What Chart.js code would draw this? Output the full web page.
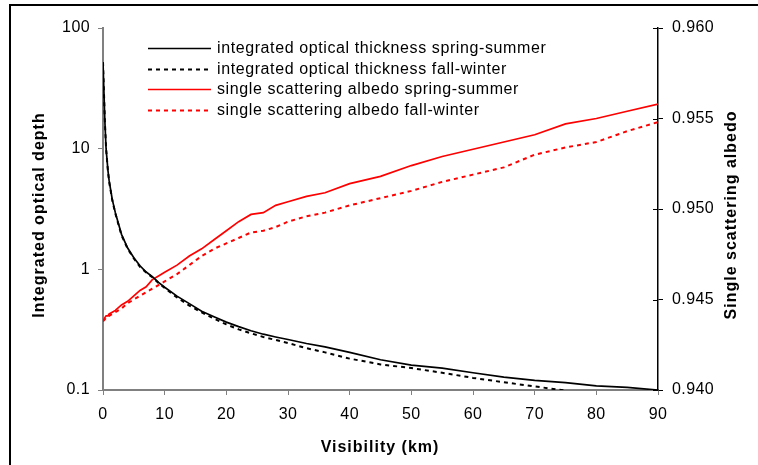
<!DOCTYPE html>
<html><head><meta charset="utf-8">
<script src="https://cdn.jsdelivr.net/npm/chart.js@4/dist/chart.umd.min.js"></script>
<style>html,body{margin:0;padding:0;background:#fff;}#wrap{width:758px;height:465px;}</style>
</head><body><div id="wrap"><canvas id="c" width="758" height="465"></canvas></div>
<script>
const visibility = [0, 0.3, 0.5, 0.8, 1, 1.5, 2, 3, 4, 5, 6, 7, 8, 9, 10, 12, 14, 16, 18, 20, 22, 24, 26, 28, 30, 33, 36, 40, 45, 50, 55, 60, 65, 70, 75, 80, 85, 90];
const odSpringSummer = [52, 17, 10, 6.6, 5.4, 3.8, 2.95, 1.95, 1.5, 1.25, 1.07, 0.95, 0.87, 0.78, 0.71, 0.6, 0.52, 0.45, 0.405, 0.365, 0.335, 0.31, 0.29, 0.275, 0.262, 0.243, 0.228, 0.205, 0.178, 0.161, 0.152, 0.139, 0.128, 0.12, 0.115, 0.108, 0.105, 0.1];
const odFallWinter = [52, 17, 10, 6.5, 5.3, 3.75, 2.9, 1.92, 1.48, 1.23, 1.05, 0.94, 0.86, 0.77, 0.70, 0.585, 0.5, 0.44, 0.39, 0.35, 0.318, 0.295, 0.275, 0.26, 0.245, 0.222, 0.205, 0.182, 0.163, 0.152, 0.139, 0.126, 0.116, 0.107, 0.099, null, null, null];
const albedoSpringSummer = [0.9438, 0.9440, 0.9441, 0.9441, 0.9442, 0.9443, 0.9444, 0.9447, 0.9449, 0.9452, 0.9455, 0.9457, 0.9461, 0.9463, 0.9465, 0.9469, 0.9474, 0.9478, 0.9483, 0.9488, 0.9493, 0.9497, 0.9498, 0.9502, 0.9504, 0.9507, 0.9509, 0.9514, 0.9518, 0.9524, 0.9529, 0.9533, 0.9537, 0.9541, 0.9547, 0.9550, 0.9554, 0.9558];
const albedoFallWinter = [0.9438, 0.9439, 0.9440, 0.9440, 0.9441, 0.9442, 0.9443, 0.9445, 0.9448, 0.9450, 0.9452, 0.9454, 0.9456, 0.9458, 0.9460, 0.9464, 0.9469, 0.9474, 0.9478, 0.9481, 0.9484, 0.9487, 0.9488, 0.9490, 0.9493, 0.9496, 0.9498, 0.9502, 0.9506, 0.9510, 0.9515, 0.9519, 0.9523, 0.9530, 0.9534, 0.9537, 0.9543, 0.9548];
const seriesLabels = ['integrated optical thickness spring-summer', 'integrated optical thickness fall-winter', 'single scattering albedo spring-summer', 'single scattering albedo fall-winter'];
const xTicks = [0, 10, 20, 30, 40, 50, 60, 70, 80, 90];
const leftTicks = [0.1, 1, 10, 100];
const rightTicks = [0.940, 0.945, 0.950, 0.955, 0.960];
const xTitle = 'Visibility (km)';
const leftTitle = 'Integrated optical depth';
const rightTitle = 'Single scattering albedo';

const FONT = '"Liberation Sans", Arial, sans-serif';
const GRAY = '#808080';
function pts(arr){ return visibility.map((v,i)=>({x:v,y:arr[i]})).filter(p=>p.y!==null); }

const decor = {
  id: 'decor',
  beforeDraw(chart){ chart.ctx.letterSpacing = '0.4px'; },
  afterDraw(chart){
    const ctx = chart.ctx, ca = chart.chartArea;
    ctx.save();
    ctx.letterSpacing = '0px';
    ctx.fillStyle = '#000';
    ctx.fillRect(9, 4, 2, 461);
    ctx.fillRect(9, 4, 749, 2);
    const ry = chart.scales.yR;
    ctx.strokeStyle = '#000'; ctx.lineWidth = 1;
    rightTicks.forEach(v=>{
      const y = Math.round(ry.getPixelForValue(v)) + 0.5;
      ctx.beginPath(); ctx.moveTo(ca.right - 5, y); ctx.lineTo(ca.right, y); ctx.stroke();
    });
    ctx.fillStyle = '#000';
    ctx.font = 'bold 16px ' + FONT;
    ctx.letterSpacing = '1px';
    ctx.textAlign = 'center'; ctx.textBaseline = 'middle';
    ctx.fillText(xTitle, 380, 448);
    ctx.save(); ctx.translate(40, 215); ctx.rotate(-Math.PI/2); ctx.fillText(leftTitle, 0, 0); ctx.restore();
    ctx.save(); ctx.translate(732, 215); ctx.rotate(-Math.PI/2); ctx.fillText(rightTitle, 0, 0); ctx.restore();
    // legend
    ctx.font = '16px ' + FONT;
    ctx.letterSpacing = '0.6px';
    ctx.textAlign = 'left';
    chart.data.datasets.forEach((ds, i)=>{
      const y = Math.round(48 + i*20.7) + 0.5;
      ctx.save();
      ctx.strokeStyle = ds.borderColor; ctx.lineWidth = ds.borderWidth;
      ctx.setLineDash(ds.borderDash || []);
      ctx.beginPath(); ctx.moveTo(148, y); ctx.lineTo(211, y); ctx.stroke();
      ctx.restore();
      ctx.fillStyle = '#000';
      ctx.fillText(ds.label, 217, y);
    });
    ctx.restore();
  }
};

new Chart(document.getElementById('c'), {
  type: 'line',
  data: {
    datasets: [
      {label: seriesLabels[0], data: pts(odSpringSummer), yAxisID: 'yL', borderColor: '#000', borderWidth: 1.7},
      {label: seriesLabels[1], data: pts(odFallWinter), yAxisID: 'yL', borderColor: '#000', borderWidth: 2, borderDash: [4,4]},
      {label: seriesLabels[2], data: pts(albedoSpringSummer), yAxisID: 'yR', borderColor: '#ff0000', borderWidth: 1.7},
      {label: seriesLabels[3], data: pts(albedoFallWinter), yAxisID: 'yR', borderColor: '#ff0000', borderWidth: 2, borderDash: [4,4]}
    ]
  },
  options: {
    responsive: false, animation: false, devicePixelRatio: 1,
    layout: {padding: {left: 0, right: 0, top: 28, bottom: 0}},
    elements: {point: {radius: 0}, line: {tension: 0}},
    plugins: {legend: {display: false}, tooltip: {enabled: false}},
    scales: {
      x: {
        type: 'linear', position: 'bottom', min: 0, max: 90,
        afterBuildTicks(s){ s.ticks = xTicks.map(v=>({value:v})); },
        afterFit(s){ s.height = 75; },
        border: {color: GRAY, width: 2},
        grid: {drawOnChartArea: false, drawTicks: true, tickLength: 5, tickColor: GRAY, lineWidth: 1},
        ticks: {color: '#000', font: {family: FONT, size: 16}, padding: 10, maxRotation: 0, callback: v=>String(v)}
      },
      yL: {
        type: 'logarithmic', position: 'left', min: 0.1, max: 100,
        afterBuildTicks(s){ s.ticks = leftTicks.map(v=>({value:v})); },
        afterFit(s){ s.width = 103; },
        border: {color: GRAY, width: 2},
        grid: {drawOnChartArea: false, drawTicks: true, tickLength: 5, tickColor: GRAY, lineWidth: 1},
        ticks: {color: '#000', font: {family: FONT, size: 16}, padding: 8, callback: v=>String(v)}
      },
      yR: {
        type: 'linear', position: 'right', min: 0.94, max: 0.96,
        afterBuildTicks(s){ s.ticks = rightTicks.map(v=>({value:v})); },
        afterFit(s){ s.width = 100; },
        border: {color: '#000', width: 1.5},
        grid: {drawOnChartArea: false, drawTicks: true, tickLength: 5, tickColor: '#000', lineWidth: 1},
        ticks: {color: '#000', font: {family: FONT, size: 16}, padding: 9, callback: v=>Number(v).toFixed(3)}
      }
    }
  },
  plugins: [decor]
});
</script></body></html>
